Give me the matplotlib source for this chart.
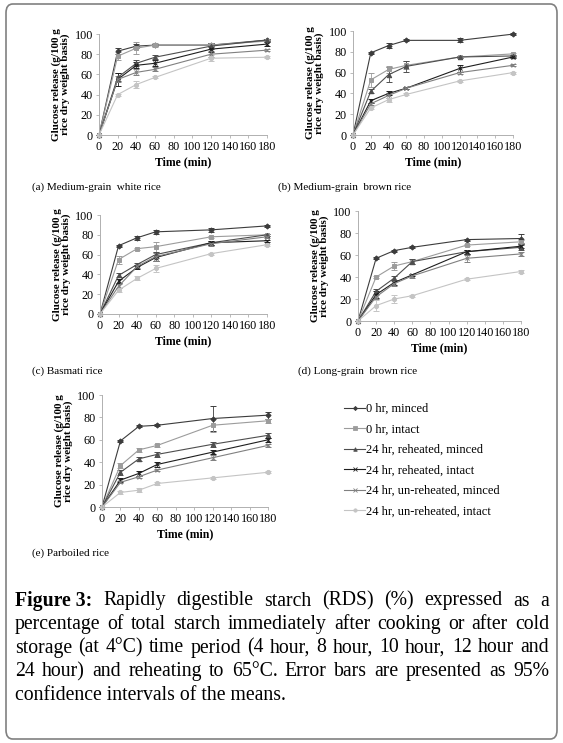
import numpy as np
import matplotlib
matplotlib.use('Agg')
import matplotlib.pyplot as plt
from matplotlib.patches import FancyBboxPatch
from matplotlib.lines import Line2D

plt.rcParams['font.family'] = ['Liberation Serif', 'DejaVu Serif']

W, H = 563, 743

time_min = [0, 20, 40, 60, 120, 180]
series_names = ['0 hr, minced', '0 hr, intact', '24 hr, reheated, minced',
                '24 hr, reheated, intact', '24 hr, un-reheated, minced',
                '24 hr, un-reheated, intact']

# (a) Medium-grain white rice
white_medium = [
    [0, 83, 88, 89, 89, 94],
    [0, 78, 86, 89, 89, 93],
    [0, 57, 71, 77, 88, 94],
    [0, 55, 69, 71, 85, 90],
    [0, 55, 62, 65, 80, 84],
    [0, 40, 50, 57, 76, 77],
]
white_medium_err = [
    [0, 3, 2, 1, 2, 1],
    [0, 4, 6, 2, 2, 1],
    [0, 4, 3, 2, 3, 1],
    [0, 6, 3, 3, 3, 2],
    [0, 3, 3, 2, 3, 1],
    [0, 1, 3, 1, 3, 1],
]

# (b) Medium-grain brown rice
brown_medium = [
    [0, 79, 86, 91, 91, 97],
    [0, 53, 63, 67, 75, 78],
    [0, 42, 58, 66, 75, 76],
    [0, 33, 40, 45, 64, 75],
    [0, 30, 38, 45, 60, 67],
    [0, 26, 34, 39, 52, 60],
]
brown_medium_err = [
    [0, 1, 2, 1, 2, 1],
    [0, 7, 3, 4, 1, 1],
    [0, 2, 7, 5, 1, 1],
    [0, 2, 2, 1, 3, 1],
    [0, 1, 2, 1, 1, 1],
    [0, 1, 2, 1, 1, 1],
]

# (c) Basmati rice
basmati = [
    [0, 69, 77, 83, 85, 89],
    [0, 55, 66, 68, 78, 80],
    [0, 39, 50, 60, 72, 80],
    [0, 33, 47, 57, 72, 74],
    [0, 28, 48, 58, 71, 78],
    [0, 24, 36, 46, 61, 70],
]
basmati_err = [
    [0, 1, 2, 2, 2, 1],
    [0, 4, 1, 5, 1, 1],
    [0, 2, 2, 3, 2, 1],
    [0, 2, 2, 3, 2, 1],
    [0, 2, 2, 4, 2, 1],
    [0, 2, 2, 4, 1, 1],
]

# (d) Long-grain brown rice
brown_long = [
    [0, 57, 64, 67, 74, 75],
    [0, 40, 50, 54, 69, 72],
    [0, 27, 39, 54, 63, 67],
    [0, 24, 35, 42, 63, 68],
    [0, 22, 34, 41, 57, 61],
    [0, 14, 20, 23, 38, 45],
]
brown_long_err = [
    [0, 1, 1, 1, 1, 4],
    [0, 1, 4, 2, 1, 2],
    [0, 2, 2, 2, 2, 2],
    [0, 3, 2, 1, 2, 2],
    [0, 2, 2, 2, 3, 2],
    [0, 5, 4, 1, 1, 1],
]

# (e) Parboiled rice
parboiled = [
    [0, 59, 72, 73, 79, 82],
    [0, 37, 51, 55, 73, 77],
    [0, 31, 43, 47, 56, 64],
    [0, 24, 30, 38, 49, 60],
    [0, 22, 27, 33, 44, 55],
    [0, 13, 15, 21, 26, 31],
]
parboiled_err = [
    [0, 1, 1, 1, 11, 3],
    [0, 2, 2, 1, 6, 2],
    [0, 2, 2, 2, 2, 2],
    [0, 2, 2, 2, 2, 2],
    [0, 1, 1, 1, 2, 1],
    [0, 1, 2, 1, 1, 1],
]

panel_titles = ['(a) Medium-grain  white rice', '(b) Medium-grain  brown rice',
                '(c) Basmati rice', '(d) Long-grain  brown rice', '(e) Parboiled rice']

colors = ['#3c3c3c', '#9c9c9c', '#4e4e4e', '#1e1e1e', '#808080', '#c4c4c4']
markers = ['D', 's', '^', 'x', 'x', 'o']
msizes = [2.6, 3.0, 3.2, 3.4, 3.4, 3.0]

fig = plt.figure(figsize=(W / 100, H / 100), dpi=100)


def px_axes(x0, y0, x1, y1):
    return fig.add_axes([x0 / W, 1 - y1 / H, (x1 - x0) / W, (y1 - y0) / H])


def draw_panel(ax, data, err):
    for i in range(len(series_names)):
        ax.errorbar(time_min, data[i], yerr=err[i], color=colors[i],
                    marker=markers[i], markersize=msizes[i], linewidth=0.8,
                    elinewidth=0.6, capsize=2, capthick=0.6,
                    markeredgewidth=0.7, clip_on=False)
    ax.set_xlim(0, 180)
    ax.set_ylim(0, 100)
    ax.set_xticks(range(0, 181, 20))
    ax.set_yticks(range(0, 101, 20))
    ax.tick_params(labelsize=8.7, length=2.5, width=0.6, color='#b0b0b0', pad=2)
    for s in ['top', 'right']:
        ax.spines[s].set_visible(False)
    for s in ['left', 'bottom']:
        ax.spines[s].set_color('#b0b0b0')
        ax.spines[s].set_linewidth(0.7)
    ax.set_xlabel('Time (min)', fontsize=8.5, fontweight='bold', labelpad=2)
    ax.set_ylabel('Glucose release (g/100 g\nrice dry weight basis)', fontsize=8,
                  fontweight='bold', labelpad=3, linespacing=1.0)


panels = [
    ((99, 34, 267, 135), white_medium, white_medium_err, (32, 187)),
    ((353, 31, 513, 135), brown_medium, brown_medium_err, (278, 187)),
    ((100, 215, 267, 314), basmati, basmati_err, (32, 371)),
    ((358, 211, 521, 321), brown_long, brown_long_err, (298, 371)),
    ((102, 395, 268, 507), parboiled, parboiled_err, (32, 553)),
]

for k, (box, data, err, tpos) in enumerate(panels):
    ax = px_axes(*box)
    draw_panel(ax, data, err)
    fig.text(tpos[0] / W, 1 - tpos[1] / H, panel_titles[k], fontsize=8,
             ha='left', va='center')

# legend without the error-bar glyphs
handles = [Line2D([], [], color=colors[i], marker=markers[i],
                  markersize=msizes[i] * 0.8, linewidth=0.8, markeredgewidth=0.6)
           for i in range(len(series_names))]
leg = fig.legend(handles, series_names, loc='upper left',
                 bbox_to_anchor=(344 / W, 1 - 403 / H), frameon=False,
                 fontsize=9, handlelength=1.7, handletextpad=0.1,
                 labelspacing=0.68, borderaxespad=0, borderpad=0)

# caption, justified
cap_lines = [
    [('Figure 3:', 'bold')] + [(w, 'normal') for w in
                               'Rapidly digestible starch (RDS) (%) expressed as a'.split()],
    [(w, 'normal') for w in
     'percentage of total starch immediately after cooking or after cold'.split()],
    [(w, 'normal') for w in
     'storage (at 4°C) time period (4 hour, 8 hour, 10 hour, 12 hour and'.split()],
    [(w, 'normal') for w in
     '24 hour) and reheating to 65°C. Error bars are presented as 95%'.split()],
]
cap_last = 'confidence intervals of the means.'
cap_left, cap_right = 15, 549
cap_y0, cap_dy = 601, 23.5
cap_size = 14.2

renderer = fig.canvas.get_renderer()
for li, words in enumerate(cap_lines):
    y = 1 - (cap_y0 + li * cap_dy) / H
    texts = []
    for w, wt in words:
        t = fig.text(0, y, w, fontsize=cap_size, fontweight=wt, ha='left', va='center')
        texts.append(t)
    widths = [t.get_window_extent(renderer).width for t in texts]
    gap = (cap_right - cap_left - sum(widths)) / (len(texts) - 1)
    x = cap_left
    for t, wd in zip(texts, widths):
        t.set_x(x / W)
        x += wd + gap
fig.text(cap_left / W, 1 - (cap_y0 + 4 * cap_dy) / H, cap_last, fontsize=cap_size,
         ha='left', va='center')

border = FancyBboxPatch((6 / W, 4 / H), (557 - 6) / W, (739 - 4) / H,
                        boxstyle='round,pad=0,rounding_size=0.012',
                        transform=fig.transFigure, fill=False,
                        edgecolor='#808080', linewidth=1.2)
fig.patches.append(border)

fig.savefig('out.png', dpi=100)
